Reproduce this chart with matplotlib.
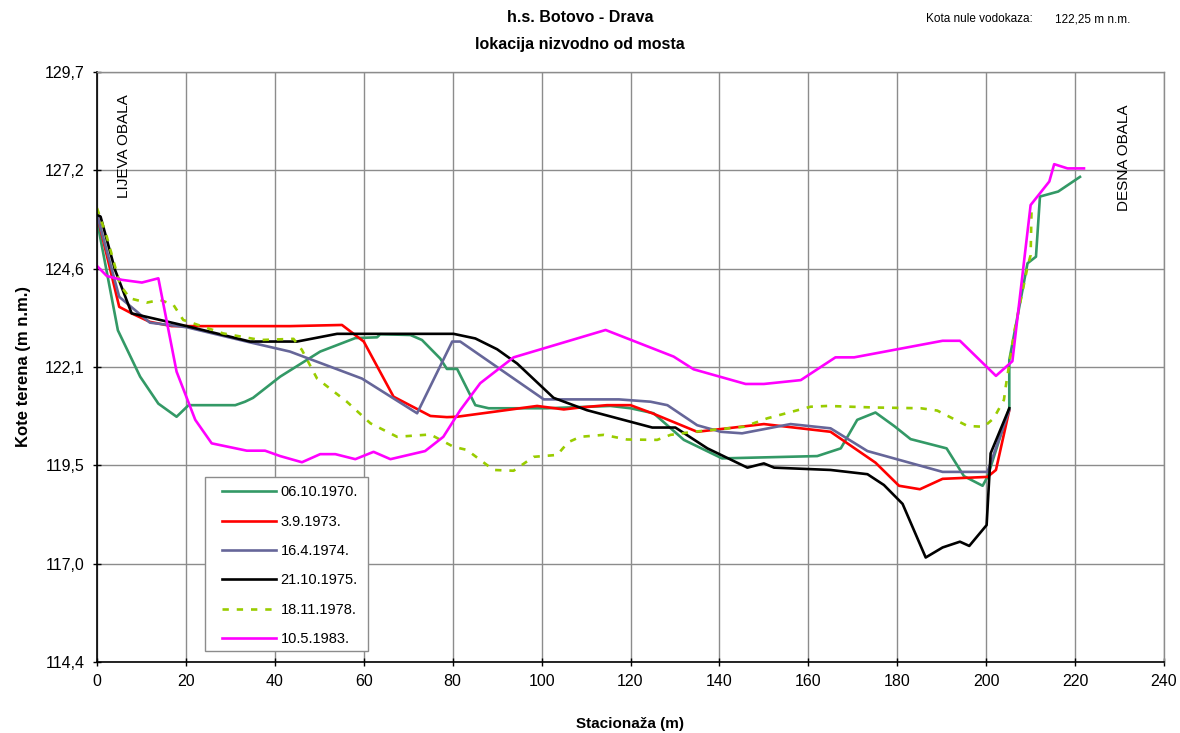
"""
h.s. Botovo - Drava, poprecni profil nizvodno od mosta
Kote terena po stacionazi za sest snimanja (1970-1983)
"""

import matplotlib
matplotlib.use("Agg")
import matplotlib.pyplot as plt
from matplotlib.patches import Rectangle
import numpy as np

plt.rcParams["font.family"] = ["Liberation Sans", "DejaVu Sans"]

# ── Data ────────────────────────────────────────────────────────────────────────
x_1970 = [0, 4.7, 9.7, 13.8, 17.9, 20.6, 31.1, 33.3, 35.1, 41.2, 50.2, 58.1, 63.0, 63.7,
          70.5, 73.1, 77.2, 78.7, 81.0, 85.1, 88.1, 101.2, 115.5, 120.0, 125.2, 132.0,
          140.6, 162.0, 167.3, 171.0, 175.1, 179.3, 183.0, 191.1, 195.0, 199.2, 200.3,
          205.2, 205.2, 209.3, 211.2, 212.1, 216.2, 221.1]
y_1970 = [125.85, 123.0, 121.8, 121.1, 120.76, 121.06, 121.06, 121.15, 121.25, 121.8,
          122.45, 122.8, 122.82, 122.9, 122.88, 122.75, 122.27, 122.0, 122.0, 121.06,
          120.98, 120.98, 121.04, 120.98, 120.85, 120.16, 119.68, 119.74, 119.94, 120.68,
          120.87, 120.52, 120.18, 119.94, 119.22, 118.97, 119.2, 120.98, 122.23, 124.74,
          124.91, 126.47, 126.6, 126.98]

x_1973 = [0, 5.0, 7.8, 11.9, 16.8, 20.2, 43.4, 55.1, 60.0, 66.7, 75.0, 78.7, 81.0, 99.0,
          105.0, 108.7, 114.7, 120.0, 124.9, 135.0, 150.0, 165.0, 175.1, 180.4, 185.1,
          190.2, 200.3, 202.2, 205.2]
y_1973 = [126.0, 123.61, 123.44, 123.22, 123.11, 123.11, 123.11, 123.14, 122.71, 121.28,
          120.78, 120.75, 120.76, 121.04, 120.95, 121.0, 121.06, 121.06, 120.85, 120.37,
          120.57, 120.37, 119.57, 118.97, 118.88, 119.15, 119.2, 119.38, 120.93]

x_1974 = [0, 5.0, 11.9, 20.2, 34.0, 43.4, 59.6, 72.0, 79.9, 81.7, 100.5, 117.4, 124.5,
          128.3, 135.0, 140.3, 145.1, 156.0, 165.0, 173.3, 190.2, 200.3, 205.2]
y_1974 = [126.0, 123.87, 123.2, 123.08, 122.7, 122.45, 121.75, 120.85, 122.71, 122.71,
          121.21, 121.21, 121.15, 121.06, 120.54, 120.37, 120.33, 120.57, 120.46, 119.87,
          119.33, 119.33, 120.93]

x_1975 = [0, 0.8, 4.05, 7.8, 20.2, 34.4, 45.0, 54.0, 80.2, 85.1, 90.0, 94.5, 102.7, 110.2,
          124.9, 130.1, 137.3, 146.3, 150.0, 152.3, 165.0, 173.3, 177.0, 181.2, 186.4,
          190.2, 194.1, 196.2, 200.1, 201.0, 205.2]
y_1975 = [126.0, 125.95, 124.57, 123.44, 123.11, 122.71, 122.71, 122.91, 122.91, 122.79,
          122.51, 122.14, 121.25, 120.93, 120.48, 120.48, 119.94, 119.44, 119.55, 119.44,
          119.38, 119.27, 118.99, 118.5, 117.11, 117.37, 117.52, 117.41, 117.95, 119.81,
          120.98]

x_1978 = [0, 2.2, 5.2, 7.4, 11.2, 14.2, 17.2, 19.4, 28.4, 36.7, 44.2, 46.1, 49.5, 56.2,
          61.5, 67.5, 75.0, 80.2, 83.2, 89.2, 93.7, 98.2, 103.5, 106.0, 108.7, 114.0,
          119.2, 126.0, 129.0, 134.2, 145.5, 150.8, 160.5, 164.3, 174.8, 185.3, 189.0,
          195.8, 199.5, 201.7, 204.0, 204.4, 206.4, 209.3, 210.0, 210.2]
y_1978 = [126.17, 125.43, 124.18, 123.83, 123.72, 123.79, 123.66, 123.27, 122.92, 122.75,
          122.78, 122.49, 121.75, 121.15, 120.59, 120.24, 120.3, 119.98, 119.9, 119.38,
          119.36, 119.72, 119.77, 120.1, 120.24, 120.29, 120.17, 120.16, 120.29, 120.37,
          120.5, 120.72, 121.02, 121.04, 121.0, 120.98, 120.92, 120.52, 120.5, 120.72,
          121.2, 121.54, 123.01, 124.65, 124.95, 126.1]

x_1983 = [0, 2.2, 5.6, 10.1, 13.8, 17.9, 22.1, 25.8, 33.7, 37.8, 41.2, 46.1, 50.2, 53.6,
          58.1, 62.2, 66.0, 73.8, 77.9, 81.7, 86.2, 93.7, 114.4, 129.7, 134.2, 145.9,
          150.0, 158.3, 166.1, 170.3, 190.2, 194.1, 202.2, 205.9, 210.0, 214.2, 215.3,
          218.3, 222.0]
y_1983 = [124.67, 124.41, 124.31, 124.24, 124.35, 121.93, 120.68, 120.07, 119.88, 119.88,
          119.74, 119.58, 119.79, 119.79, 119.66, 119.85, 119.66, 119.87, 120.24, 120.93,
          121.63, 122.3, 123.01, 122.32, 121.99, 121.61, 121.61, 121.71, 122.3, 122.3,
          122.73, 122.73, 121.82, 122.2, 126.25, 126.86, 127.31, 127.2, 127.2]

labels = ["06.10.1970.", "3.9.1973.", "16.4.1974.", "21.10.1975.", "18.11.1978.", "10.5.1983."]
y_ticks = [114.4, 116.95, 119.5, 122.05, 124.6, 127.15, 129.7]
y_tick_labels = ["114,4", "117,0", "119,5", "122,1", "124,6", "127,2", "129,7"]
x_ticks = list(range(0, 241, 20))

# ── Styles ──────────────────────────────────────────────────────────────────────
series = [
    (x_1970, y_1970, "#339966", "-"),
    (x_1973, y_1973, "#FF0000", "-"),
    (x_1974, y_1974, "#666699", "-"),
    (x_1975, y_1975, "#000000", "-"),
    (x_1978, y_1978, "#99CC00", (0, (2.4, 3.0))),
    (x_1983, y_1983, "#FF00FF", "-"),
]

# ── Plot ────────────────────────────────────────────────────────────────────────
fig = plt.figure(figsize=(11.8, 7.33), dpi=100)
ax = fig.add_axes([97 / 1180, 1 - 662 / 733, (1164 - 97) / 1180, (662 - 72) / 733])

for (xs, ys, col, ls), lbl in zip(series, labels):
    ax.plot(xs, ys, color=col, linestyle=ls, linewidth=1.9, label=lbl)

ax.set_xlim(0, 240)
ax.set_ylim(114.4, 129.7)
ax.set_xticks(x_ticks)
ax.set_yticks(y_ticks)
ax.set_yticklabels(y_tick_labels)
ax.tick_params(axis="both", direction="inout", length=6, width=1, labelsize=11.5, pad=6)
ax.grid(True, color="#8c8c8c", linewidth=1.0)
ax.set_axisbelow(True)
for side in ["top", "right"]:
    ax.spines[side].set_color("#8c8c8c")
    ax.spines[side].set_linewidth(1.0)
for side in ["left", "bottom"]:
    ax.spines[side].set_linewidth(1.2)

ax.set_xlabel("Stacionaža (m)", fontsize=11, fontweight="bold", labelpad=20)
ax.set_ylabel("Kote terena (m n.m.)", fontsize=12, fontweight="bold", labelpad=10)

ax.text(6.1, 127.78, "LIJEVA OBALA", rotation=90, ha="center", va="center", fontsize=11)
ax.text(230.9, 127.48, "DESNA OBALA", rotation=90, ha="center", va="center", fontsize=11)

# legend box drawn separately so the padding matches the Excel frame
ax.add_patch(Rectangle((0.1012, 0.0186), 0.1528, 0.2949, transform=ax.transAxes,
                       facecolor="white", edgecolor="#8c8c8c", linewidth=1.0, zorder=4))
leg = ax.legend(loc="upper left", bbox_to_anchor=(0.1172, 0.2992), borderaxespad=0,
                borderpad=0, fontsize=10.5, handlelength=3.7, handletextpad=0.3,
                labelspacing=1.05, frameon=False)
leg.set_zorder(5)

fig.text(580 / 1180, 1 - 18 / 733, "h.s. Botovo - Drava", ha="center", va="center",
         fontsize=11.5, fontweight="bold")
fig.text(580 / 1180, 1 - 44 / 733, "lokacija nizvodno od mosta", ha="center", va="center",
         fontsize=11.5, fontweight="bold")
fig.text(1033 / 1180, 1 - 19 / 733, "Kota nule vodokaza:", ha="right", va="center", fontsize=8.5)
fig.text(1055 / 1180, 1 - 19 / 733, "122,25 m n.m.", ha="left", va="center", fontsize=8.5)

fig.savefig("out.png", dpi=100)
